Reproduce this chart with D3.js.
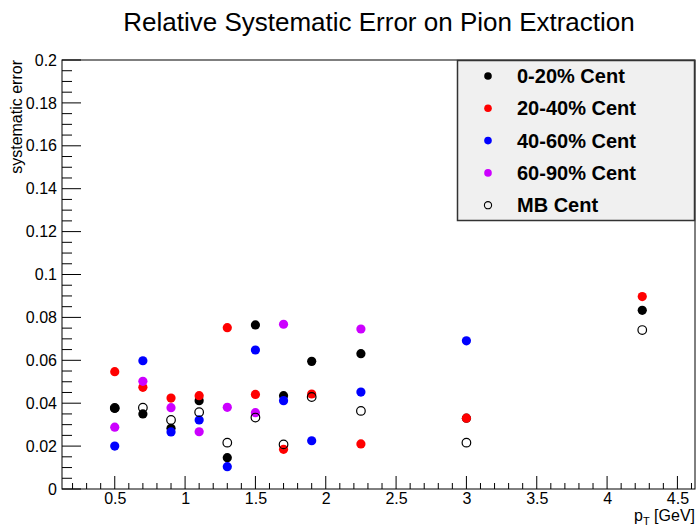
<!DOCTYPE html>
<html>
<head>
<meta charset="utf-8">
<script src="https://cdn.jsdelivr.net/npm/d3@7"></script>
<style>
  html, body { margin: 0; padding: 0; background: #fff; }
  svg { display: block; font-family: "Liberation Sans", Arial, Helvetica, sans-serif; }
</style>
</head>
<body>
<svg id="chart" width="696" height="529"></svg>
<script>
// Relative systematic error vs pT for each centrality class
const ptBins   = [0.5, 0.7, 0.9, 1.1, 1.3, 1.5, 1.7, 1.9, 2.25, 3.0, 4.25];
const cent0020 = [0.0376, 0.0350, 0.0283, 0.0412, 0.0146, 0.0765, 0.0435, 0.0595, 0.0631, 0.0330, 0.0833];
const cent2040 = [0.0547, 0.0474, 0.0424, 0.0435, 0.0752, 0.0441, 0.0185, 0.0443, 0.0210, 0.0330, 0.0897];
const cent4060 = [0.0200, 0.0598, 0.0266, 0.0322, 0.0104, 0.0648, 0.0412, 0.0225, 0.0452, 0.0691, null];
const cent6090 = [0.0288, 0.0502, 0.0379, 0.0267, 0.0381, 0.0356, 0.0768, null, 0.0746, null, null];
const centMB   = [0.0378, 0.0379, 0.0322, 0.0358, 0.0216, 0.0333, 0.0208, 0.0429, 0.0364, 0.0216, 0.0741];

const seriesNames  = ["0-20% Cent", "20-40% Cent", "40-60% Cent", "60-90% Cent", "MB Cent"];
const seriesValues = [cent0020, cent2040, cent4060, cent6090, centMB];
const seriesColors = ["#000000", "#ff0000", "#0000ff", "#cc00ff", "#000000"];
const seriesOpen   = [false, false, false, false, true];

const xTickLabels = [0.5, 1, 1.5, 2, 2.5, 3, 3.5, 4, 4.5];
const yTickLabels = [0, 0.02, 0.04, 0.06, 0.08, 0.1, 0.12, 0.14, 0.16, 0.18, 0.2];

const frame = { left: 62, right: 695, top: 60, bottom: 489 };

const x = d3.scaleLinear().domain([0.125, 4.625]).range([frame.left, frame.right]);
const y = d3.scaleLinear().domain([0, 0.2]).range([frame.bottom, frame.top]);

const svg = d3.select("#chart");

// Title
svg.append("text")
  .attr("x", 379).attr("y", 31)
  .attr("text-anchor", "middle")
  .attr("font-size", 26)
  .text("Relative Systematic Error on Pion Extraction");

// Frame
svg.append("rect")
  .attr("x", frame.left).attr("y", frame.top)
  .attr("width", frame.right - frame.left).attr("height", frame.bottom - frame.top)
  .attr("fill", "none").attr("stroke", "#000").attr("stroke-width", 1);

// X axis: major ticks every 0.5, minor every 0.1
const xMinor = d3.range(2, 47).map(i => i / 10).filter(v => v >= 0.125 && v <= 4.625);
svg.append("g").selectAll("line").data(xMinor).join("line")
  .attr("x1", d => x(d)).attr("x2", d => x(d))
  .attr("y1", frame.bottom)
  .attr("y2", d => frame.bottom - (Math.abs(d * 2 - Math.round(d * 2)) < 1e-6 ? 13 : 6))
  .attr("stroke", "#000").attr("stroke-width", 1);

const xAxis = d3.axisBottom(x).tickValues(xTickLabels).tickSize(0).tickPadding(4)
  .tickFormat(d => String(d));
const gx = svg.append("g").attr("transform", `translate(0,${frame.bottom})`).call(xAxis);
gx.select(".domain").remove();
gx.selectAll("text").attr("font-size", 16).attr("font-family", "Liberation Sans, Arial, sans-serif").attr("fill", "#000");

// Y axis: major ticks every 0.02, minor every 0.005
const yMinor = d3.range(0, 41).map(i => i * 0.005);
svg.append("g").selectAll("line").data(yMinor).join("line")
  .attr("x1", frame.left)
  .attr("x2", (d, i) => frame.left + (i % 4 === 0 ? 19 : 10))
  .attr("y1", d => y(d)).attr("y2", d => y(d))
  .attr("stroke", "#000").attr("stroke-width", 1);

const yAxis = d3.axisLeft(y).tickValues(yTickLabels).tickSize(0).tickPadding(5)
  .tickFormat(d => String(d));
const gy = svg.append("g").attr("transform", `translate(${frame.left},0)`).call(yAxis);
gy.select(".domain").remove();
gy.selectAll("text").attr("font-size", 16).attr("font-family", "Liberation Sans, Arial, sans-serif").attr("fill", "#000");

// Axis titles
svg.append("text")
  .attr("transform", `translate(22,${frame.top}) rotate(-90)`)
  .attr("text-anchor", "end")
  .attr("font-size", 16)
  .text("systematic error");

const xt = svg.append("text")
  .attr("x", 695).attr("y", 521)
  .attr("text-anchor", "end")
  .attr("font-size", 16);
xt.append("tspan").text("p");
xt.append("tspan").attr("font-size", 11).attr("dy", 4).text("T");
xt.append("tspan").attr("dy", -4).text(" [GeV]");

// Data points
const plot = svg.append("g");
seriesValues.forEach((vals, si) => {
  const pts = ptBins.map((p, i) => ({ p, v: vals[i] })).filter(d => d.v != null);
  plot.append("g").selectAll("circle").data(pts).join("circle")
    .attr("cx", d => x(d.p)).attr("cy", d => y(d.v))
    .attr("r", seriesOpen[si] ? 4.3 : 4.6)
    .attr("fill", seriesOpen[si] ? "none" : seriesColors[si])
    .attr("stroke", seriesOpen[si] ? seriesColors[si] : "none")
    .attr("stroke-width", 1.2);
});

// Legend
const legend = svg.append("g");
legend.append("rect")
  .attr("x", 457.5).attr("y", 60.5).attr("width", 237).attr("height", 160)
  .attr("fill", "#f0f0f0").attr("stroke", "#333").attr("stroke-width", 1.5);
seriesNames.forEach((name, i) => {
  const cy = 76 + i * 32.3;
  legend.append("circle")
    .attr("cx", 488).attr("cy", cy)
    .attr("r", seriesOpen[i] ? 3.6 : 3.8)
    .attr("fill", seriesOpen[i] ? "none" : seriesColors[i])
    .attr("stroke", seriesOpen[i] ? seriesColors[i] : "none")
    .attr("stroke-width", 1.1);
  legend.append("text")
    .attr("x", 517).attr("y", cy + 7)
    .attr("font-size", 20).attr("font-weight", "bold")
    .text(name);
});
</script>
</body>
</html>
